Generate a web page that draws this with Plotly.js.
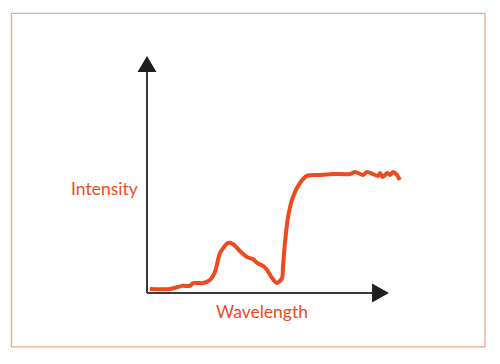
<!DOCTYPE html>
<html>
<head>
<meta charset="utf-8">
<script src="https://cdn.plot.ly/plotly-3.0.1.min.js"></script>
<style>html,body{margin:0;padding:0;background:#fff;}#chart{width:500px;height:364px;}</style>
</head>
<body>
<div id="chart"></div>
<script>
// Spectrum data (arbitrary units)
const wavelength = [1.2, 9.5, 14.5, 17.8, 19.0, 23.1, 26.0, 28.1, 30.2, 33.5, 35.5, 38.4, 41.3, 43.8, 45.5, 47.9, 49.6, 51.7, 53.7, 55.8, 56.2, 57.0, 58.3, 60.3, 63.2, 66.1, 71.5, 76.9, 83.9, 86.0, 89.3, 90.9, 93.4, 95.5, 96.3, 97.5, 99.2, 100.4, 101.7, 103.3, 104.5];
const intensity = [1.7, 1.7, 3.0, 3.0, 4.2, 4.2, 5.5, 8.9, 16.9, 21.1, 20.7, 17.7, 15.2, 14.3, 12.7, 11.4, 9.7, 6.3, 4.2, 6.3, 11.0, 21.1, 32.1, 40.5, 46.4, 49.4, 49.8, 50.2, 50.2, 51.1, 49.8, 51.1, 50.2, 49.4, 50.6, 48.9, 50.6, 49.8, 51.1, 49.8, 47.7];
const xLabel = "Wavelength";
const yLabel = "Intensity";

const red = "#f0491c";
const axisCol = "#3a3a3a";

const trace = {
  x: wavelength, y: intensity, type: "scatter", mode: "lines",
  line: {color: red, width: 4, shape: "spline", smoothing: 0.7},
  hoverinfo: "skip"
};

const layout = {
  width: 500, height: 364,
  margin: {l: 0, r: 0, t: 0, b: 0},
  paper_bgcolor: "#fff", plot_bgcolor: "#fff",
  showlegend: false,
  xaxis: {range: [-60.74, 145.87], visible: false, fixedrange: true},
  yaxis: {range: [-29.96, 123.63], visible: false, fixedrange: true},
  shapes: [
    {type: "rect", xref: "paper", yref: "paper", x0: 0.023, x1: 0.970, y0: 0.047, y1: 0.963,
     line: {color: "#f4a48b", width: 1.3}, fillcolor: "rgba(0,0,0,0)"},
    {type: "line", x0: 0, x1: 0, y0: 0, y1: 94, line: {color: axisCol, width: 2}},
    {type: "line", x0: 0, x1: 94, y0: 0, y1: 0, line: {color: axisCol, width: 2}},
    {type: "path", path: "M -3.9 93.2 L 3.9 93.2 L 0 100 Z", fillcolor: "#1e1e1e", line: {width: 0}},
    {type: "path", path: "M 93 -4 L 93 4 L 100 0 Z", fillcolor: "#1e1e1e", line: {width: 0}}
  ],
  annotations: [
    {x: -17.4, y: 44.3, text: yLabel, showarrow: false, font: {family: "Lato, 'Open Sans', sans-serif", size: 17.5, color: red}},
    {x: 47.7, y: -8.0, text: xLabel, showarrow: false, font: {family: "Lato, 'Open Sans', sans-serif", size: 17.5, color: red}}
  ]
};

Plotly.newPlot("chart", [trace], layout, {staticPlot: true, displayModeBar: false});
</script>
</body>
</html>
